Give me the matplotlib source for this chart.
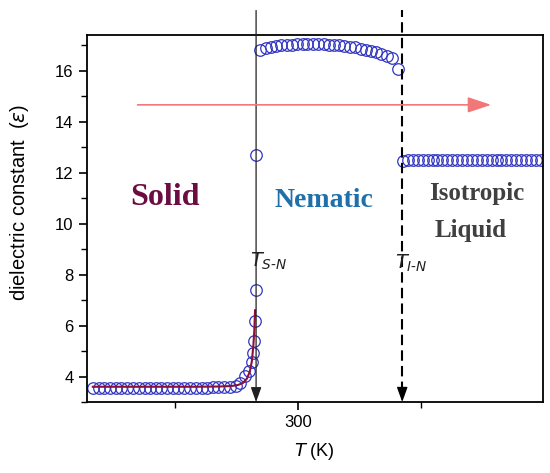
import matplotlib.pyplot as plt
from matplotlib.ticker import MultipleLocator

# --- data ---
solid_T = [258.3, 259.5, 260.6, 261.8, 263.0, 264.1, 265.3, 266.4, 267.6, 268.8,
           269.9, 271.1, 272.2, 273.4, 274.6, 275.7, 276.9, 278.0, 279.2, 280.4,
           281.5, 282.7, 283.8, 285.0, 286.2, 287.3, 288.2, 289.2, 290.0, 290.55,
           290.75, 290.96, 291.26, 291.46, 291.5]
solid_eps = [3.55, 3.55, 3.55, 3.55, 3.55, 3.55, 3.55, 3.55, 3.55, 3.55,
             3.55, 3.55, 3.55, 3.55, 3.55, 3.56, 3.56, 3.56, 3.56, 3.57,
             3.57, 3.58, 3.58, 3.59, 3.6, 3.62, 3.75, 4.01, 4.23, 4.56,
             4.94, 5.39, 6.17, 7.4, 12.7]

nem_T = [292.3, 293.4, 294.4, 295.5, 296.6, 297.7, 298.7, 299.8, 300.9, 301.9,
         303.0, 304.1, 305.2, 306.2, 307.3, 308.4, 309.4, 310.5, 311.6, 312.7,
         313.7, 314.8, 315.9, 316.9, 318.0, 319.1, 320.3]
nem_eps = [16.83, 16.89, 16.94, 16.97, 16.99, 17.01, 17.02, 17.03, 17.03, 17.04,
           17.04, 17.03, 17.03, 17.02, 17.01, 16.99, 16.97, 16.94, 16.91, 16.87,
           16.83, 16.78, 16.72, 16.65, 16.57, 16.48, 16.05]

iso_T = [321.3, 322.3, 323.3, 324.3, 325.3, 326.3, 327.3, 328.3, 329.3, 330.3,
         331.3, 332.3, 333.3, 334.3, 335.3, 336.3, 337.3, 338.3, 339.3, 340.3,
         341.3, 342.3, 343.3, 344.3, 345.3, 346.3, 347.3, 348.3, 349.3]
iso_eps = [12.44, 12.49, 12.5, 12.5, 12.5, 12.5, 12.5, 12.5, 12.5, 12.5,
           12.5, 12.5, 12.5, 12.5, 12.5, 12.5, 12.5, 12.5, 12.5, 12.5,
           12.5, 12.5, 12.5, 12.5, 12.5, 12.5, 12.5, 12.5, 12.5]

fit_T = [258.3, 265.0, 272.0, 279.0, 284.0, 286.5, 287.8, 288.8, 289.6,
         290.2, 290.6, 290.9, 291.1, 291.25]
fit_eps = [3.6, 3.6, 3.6, 3.6, 3.61, 3.63, 3.67, 3.75, 3.92,
           4.2, 4.6, 5.2, 5.8, 6.6]

T_SN = 291.46
T_IN = 321.14

plt.rcParams['font.family'] = ['Liberation Sans', 'DejaVu Sans']
plt.rcParams['mathtext.fontset'] = 'dejavusans'

fig = plt.figure(figsize=(5.5, 4.73), dpi=100)
ax = fig.add_axes([0.158, 0.150, 0.829, 0.776])

mk = dict(ls='none', marker='o', ms=8.3, mfc='none', mec='#3236c0', mew=0.9)
ax.plot(solid_T, solid_eps, **mk)
ax.plot(nem_T, nem_eps, **mk)
ax.plot(iso_T, iso_eps, **mk)
ax.plot(fit_T, fit_eps, color='#8a1038', lw=1.5)

ax.set_xlim(257.1, 349.7)
ax.set_ylim(3.0, 17.4)

# transition lines with arrows
ax.annotate('', xy=(T_SN, 3.0), xytext=(T_SN, 18.36), annotation_clip=False,
            arrowprops=dict(arrowstyle='-|>,head_length=0.5,head_width=0.18',
                            color='#202020', lw=0.9, mutation_scale=18,
                            shrinkA=0, shrinkB=0))
ax.plot([T_IN, T_IN], [3.4, 18.4], color='black', lw=1.5, ls=(0, (5, 2.5)),
        clip_on=False)
ax.annotate('', xy=(T_IN, 3.0), xytext=(T_IN, 3.6), annotation_clip=False,
            arrowprops=dict(arrowstyle='-|>,head_length=0.5,head_width=0.18',
                            color='black', lw=1.0, mutation_scale=18,
                            shrinkA=0, shrinkB=0))

# heating direction arrow
ax.annotate('', xy=(339.2, 14.66), xytext=(267.4, 14.66),
            arrowprops=dict(arrowstyle='-|>,head_length=0.9,head_width=0.3',
                            color='#f07878', lw=1.2, mutation_scale=16,
                            shrinkA=0, shrinkB=0))

# phase labels
ax.text(272.97, 11.04, 'Solid', family='Liberation Serif', weight='bold',
        fontsize=23, color='#6b0d40', ha='center', va='center')
ax.text(305.3, 10.92, 'Nematic', family='Liberation Serif', weight='bold',
        fontsize=20, color='#1f6fab', ha='center', va='center')
ax.text(336.2, 11.2, 'Isotropic', family='Liberation Serif', weight='bold',
        fontsize=18, color='#404040', ha='center', va='center')
ax.text(334.96, 9.74, 'Liquid', family='Liberation Serif', weight='bold',
        fontsize=18, color='#404040', ha='center', va='center')

ax.text(290.24, 8.32, r'$T_{S\text{-}N}$', fontsize=14, color='#202020',
        ha='left', va='baseline')
ax.text(319.7, 8.24, r'$T_{I\text{-}N}$', fontsize=14, color='#202020',
        ha='left', va='baseline')

# axes styling
ax.xaxis.set_major_locator(MultipleLocator(50))
ax.xaxis.set_minor_locator(MultipleLocator(25))
ax.yaxis.set_major_locator(MultipleLocator(2))
ax.yaxis.set_minor_locator(MultipleLocator(1))
ax.tick_params(which='major', direction='out', length=6, width=1.2,
               labelsize=12, top=False, right=False)
ax.tick_params(which='minor', direction='out', length=4, width=1.0,
               top=False, right=False)
for s in ax.spines.values():
    s.set_linewidth(1.3)

ax.set_xlabel(r'$T$ (K)', fontsize=13, labelpad=8)
ax.set_ylabel(r'dielectric constant  ($\varepsilon$)', fontsize=14.5)
ax.yaxis.set_label_coords(-0.122, 0.545)

fig.savefig('out.png', dpi=100)
